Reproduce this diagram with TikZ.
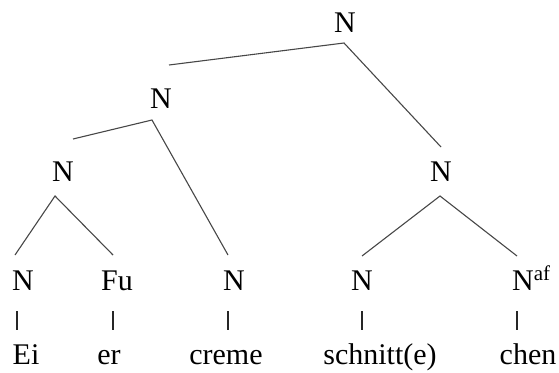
\documentclass[tikz,border=0pt]{standalone}
\usepackage{fontspec}
\newfontfamily\tnr{Liberation Serif}
\begin{document}
\begin{tikzpicture}[x=1pt,y=-1pt,
  lab/.style={inner sep=0pt,anchor=base,font=\tnr\fontsize{30}{34}\selectfont},
  br/.style={draw=black!72,line width=1.1pt},
  bar/.style={draw=black!85,line width=1.1pt}]
\useasboundingbox (0,0) rectangle (559,372);
% category labels
\node[lab] (top) at (345,32) {N};
\node[lab] (mid) at (161,108) {N};
\node[lab] (ll) at (63,181) {N};
\node[lab] (rr) at (441,181) {N};
\node[lab] (n1) at (23,290) {N};
\node[lab] (n2) at (117,290) {Fu};
\node[lab] (n3) at (234,290) {N};
\node[lab] (n4) at (362,290) {N};
\node[lab,anchor=base west] (n5) at (512,290) {N\textsuperscript{af}};
% words
\node[lab] (w1) at (26,364) {Ei};
\node[lab] (w2) at (109,364) {er};
\node[lab] (w3) at (226,364) {creme};
\node[lab] (w4) at (380,364) {schnitt(e)};
\node[lab] (w5) at (528,364) {chen};
% connector end points
\coordinate (topA) at (344,43);
\coordinate (topL) at (169,65);
\coordinate (topR) at (441,147);
\coordinate (midA) at (152,120);
\coordinate (midL) at (73,139);
\coordinate (midR) at (228,255);
\coordinate (llA) at (55,196);
\coordinate (llL) at (15,255);
\coordinate (llR) at (113,255);
\coordinate (rrA) at (440,196);
\coordinate (rrL) at (362,256);
\coordinate (rrR) at (517,256);
\draw[br] (topL) -- (topA) -- (topR);
\draw[br] (midL) -- (midA) -- (midR);
\draw[br] (llL) -- (llA) -- (llR);
\draw[br] (rrL) -- (rrA) -- (rrR);
% unary bars
\coordinate (b1a) at (17,311); \coordinate (b1b) at (17,330);
\coordinate (b2a) at (113,311); \coordinate (b2b) at (113,330);
\coordinate (b3a) at (228,311); \coordinate (b3b) at (228,330);
\coordinate (b4a) at (362,311); \coordinate (b4b) at (362,330);
\coordinate (b5a) at (517,311); \coordinate (b5b) at (517,330);
\draw[bar] (b1a) -- (b1b);
\draw[bar] (b2a) -- (b2b);
\draw[bar] (b3a) -- (b3b);
\draw[bar] (b4a) -- (b4b);
\draw[bar] (b5a) -- (b5b);
\end{tikzpicture}
\end{document}
